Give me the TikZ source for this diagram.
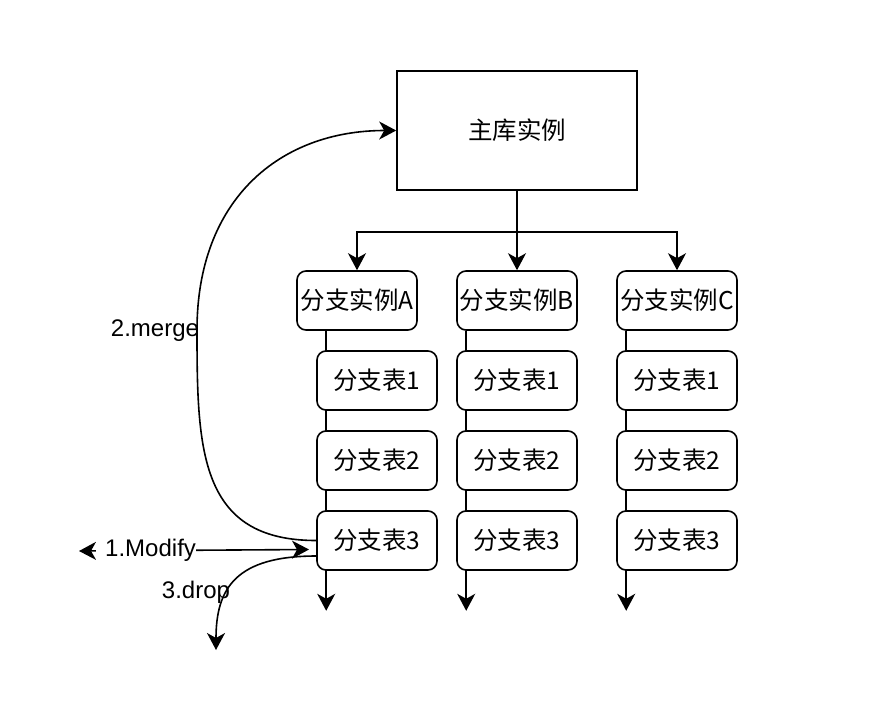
\documentclass[tikz,border=0pt]{standalone}
\usepackage{fontspec}
\setmainfont{Liberation Sans}
\newfontfamily\cjk{Noto Sans CJK SC}
\usepackage{tikz}
\usetikzlibrary{arrows.meta, backgrounds}
\tikzstyle{mainbox} = [rectangle, minimum width=240pt, minimum height=119pt, inner sep=0pt, draw=black, line width=1.6pt, font=\cjk\fontsize{24.5}{28}\selectfont]
\tikzstyle{branch} = [rectangle, rounded corners=9pt, minimum width=120pt, minimum height=59pt, inner sep=0pt, draw=black, fill=white, line width=1.6pt, font=\cjk\fontsize{24.5}{28}\selectfont]
\tikzstyle{arrow} = [line width=1.6pt,-{Stealth[length=17pt,width=18pt,inset=5pt]}]
\tikzstyle{lbl} = [inner sep=2pt, font=\fontsize{24}{28}\selectfont]

\begin{document}
\begin{tikzpicture}[x=1pt,y=-1pt]
\useasboundingbox (0,0) rectangle (889,721);

\node[mainbox] (main) at (517,130.5) {主库实例};

% branch instances and their tables
\foreach \col/\x/\tx in {A/357/377, B/517/517, C/677/677} {
    \node[branch] (inst\col) at (\x,300.5) {分支实例\col};
    \foreach \n/\y in {1/380.5, 2/460.5, 3/540.5}
        \node[branch] (tab\col\n) at (\tx,\y) {分支表\n};
    \coordinate (end\col) at ([xshift=10pt,yshift=-40pt]tab\col3.south west);
    \begin{scope}[on background layer]
        \draw[arrow] (inst\col.south -| end\col) -- (end\col);
    \end{scope}
}

\draw[arrow] (main.south) -- (instB.north);
\draw[arrow] (main.south) -- ++(0,41) -| (instA.north);
\draw[arrow] (main.south) -- ++(0,41) -| (instC.north);

% merge back to main
\coordinate (mergemid) at (197,330);
\draw[arrow] (tabA3.west) .. controls +(-117,0) and +(0,120) .. (mergemid)
    .. controls +(0,-130) and +(-117,0) .. (main.west);
\node[lbl] (mergelbl) at (155,331) {2.merge};

% modify
\coordinate (modfrom) at (79,551);
\coordinate (modto) at (309,549.5);
\draw[line width=1.6pt,{Stealth[length=17pt,width=18pt,inset=5pt]}-{Stealth[length=17pt,width=18pt,inset=5pt]}]
    (modfrom) -- node[lbl, pos=0.291, fill=white, inner sep=0pt, minimum height=22pt,
      minimum width=100pt, text width=100pt, align=right] (modlbl) {1.Modify} (modto);

% drop
\coordinate (dropend) at (216,650);
\draw[arrow] ([yshift=-15.5pt]tabA3.west) .. controls +(-80,0) and +(0,-62) .. (dropend);
\node[lbl] (droplbl) at (196,592) {3.drop};
\end{tikzpicture}
\end{document}
